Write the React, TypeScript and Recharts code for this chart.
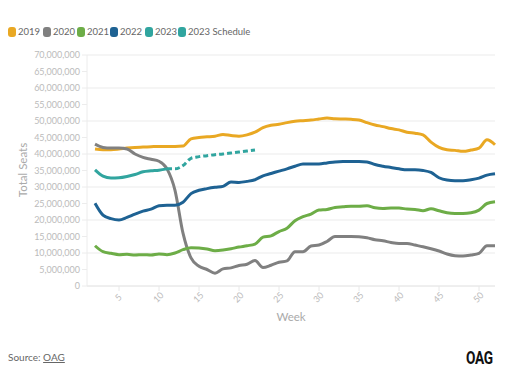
import { LineChart, Line, XAxis, YAxis, CartesianGrid } from 'recharts';

const weeks = [
  2, 3, 4, 5, 6, 7, 8, 9, 10, 11, 12, 13, 14, 15, 16, 17, 18, 19, 20, 21, 22, 23, 24, 25, 26, 27,
  28, 29, 30, 31, 32, 33, 34, 35, 36, 37, 38, 39, 40, 41, 42, 43, 44, 45, 46, 47, 48, 49, 50, 51, 52,
];

// values in millions of seats
const seats2019 = [
  41.5, 41.3, 41.3, 41.5, 41.8, 42.0, 42.1, 42.2, 42.3, 42.3, 42.3, 42.4, 44.6, 45.0, 45.2, 45.4,
  45.9, 45.6, 45.4, 45.8, 46.6, 48.0, 48.7, 49.0, 49.5, 49.9, 50.1, 50.3, 50.6, 50.9, 50.7, 50.6,
  50.5, 50.3, 49.5, 48.8, 48.3, 47.7, 47.3, 46.6, 46.3, 45.8, 43.6, 42.0, 41.3, 41.1, 40.8, 41.2,
  41.8, 44.3, 42.8,
];
const seats2020 = [
  43.0, 42.0, 41.8, 41.8, 41.5, 40.0, 39.0, 38.4, 37.8, 35.5, 29.0, 16.0, 8.5, 6.0, 5.0, 3.9,
  5.2, 5.5, 6.2, 6.6, 7.7, 5.6, 6.3, 7.2, 7.6, 10.4, 10.4, 12.1, 12.4, 13.5, 15.0, 15.0, 15.0,
  14.9, 14.6, 14.0, 13.7, 13.2, 12.9, 12.9, 12.4, 11.9, 11.3, 10.6, 9.7, 9.2, 9.1, 9.4, 9.9,
  12.2, 12.2,
];
const seats2021 = [
  12.2, 10.4, 9.9, 9.5, 9.6, 9.4, 9.5, 9.4, 9.7, 9.5, 10.0, 11.0, 11.6, 11.5, 11.2, 10.7, 10.9,
  11.3, 11.8, 12.2, 12.7, 14.8, 15.2, 16.5, 17.5, 19.8, 21.0, 21.8, 23.0, 23.2, 23.8, 24.0, 24.2,
  24.2, 24.3, 23.7, 23.5, 23.6, 23.6, 23.3, 23.2, 22.8, 23.4, 22.8, 22.2, 22.0, 22.0, 22.2, 23.0,
  25.0, 25.5,
];
const seats2022 = [
  25.1, 21.5, 20.4, 20.0, 20.8, 21.8, 22.7, 23.3, 24.3, 24.5, 24.5, 25.4, 28.0, 29.0, 29.5, 29.9,
  30.2, 31.5, 31.4, 31.7, 32.2, 33.4, 34.1, 34.8, 35.5, 36.3, 37.0, 37.0, 37.0, 37.3, 37.6, 37.7,
  37.7, 37.7, 37.6, 36.8, 36.3, 35.9, 35.5, 35.2, 35.2, 35.0, 34.4, 32.8, 32.1, 31.9, 31.9, 32.2,
  32.7, 33.6, 34.0,
];
// weeks 2-11
const seats2023 = [35.2, 33.3, 32.7, 32.8, 33.2, 33.8, 34.6, 34.9, 35.1, 35.5];
// weeks 11-22
const seats2023Schedule = [35.5, 35.5, 36.5, 38.7, 39.2, 39.5, 39.8, 40.0, 40.3, 40.6, 40.9, 41.2];

const yTicks = [0, 5, 10, 15, 20, 25, 30, 35, 40, 45, 50, 55, 60, 65, 70].map((v) => v * 1000000);
const xTicks = [5, 10, 15, 20, 25, 30, 35, 40, 45, 50];

const series = [
  { key: 'y2019', name: '2019', color: '#E9A823', dashed: false },
  { key: 'y2020', name: '2020', color: '#808080', dashed: false },
  { key: 'y2021', name: '2021', color: '#6DAD47', dashed: false },
  { key: 'y2022', name: '2022', color: '#1E6293', dashed: false },
  { key: 'y2023', name: '2023', color: '#31A59F', dashed: false },
  { key: 'y2023s', name: '2023 Schedule', color: '#31A59F', dashed: true },
];
const legendLeft = [8, 43, 77, 110, 145, 178];

const M = 1000000;
const data = weeks.map((week, i) => {
  const row: any = {
    week,
    y2019: seats2019[i] * M,
    y2020: seats2020[i] * M,
    y2021: seats2021[i] * M,
    y2022: seats2022[i] * M,
  };
  if (week <= 11) row.y2023 = seats2023[week - 2] * M;
  if (week >= 11 && week <= 22) row.y2023s = seats2023Schedule[week - 11] * M;
  return row;
});

const FONT = 'Lato, "Open Sans", sans-serif';

const XTick = (props: any) => {
  const { x, y, payload } = props;
  const ty = y + 5;
  return (
    <text
      x={x}
      y={ty}
      transform={`rotate(-45 ${x} ${ty})`}
      textAnchor="middle"
      dominantBaseline="middle"
      fontSize={9}
      fontFamily={FONT}
      fill="#bbb"
    >
      {payload.value}
    </text>
  );
};

export default function App() {
  return (
    <div
      style={{
        position: 'absolute',
        left: 0,
        top: 0,
        width: 532,
        height: 380,
        background: '#fff',
        fontFamily: FONT,
      }}
    >
      {series.map((s, i) => (
        <div
          key={s.key}
          style={{
            position: 'absolute',
            left: legendLeft[i],
            top: 26,
            display: 'flex',
            alignItems: 'center',
            fontSize: 9.5,
            color: '#666',
            whiteSpace: 'nowrap',
          }}
        >
          <span
            style={{
              display: 'inline-block',
              width: 8,
              height: 10,
              borderRadius: 3,
              background: s.color,
              marginRight: 2,
            }}
          />
          {s.name}
        </div>
      ))}

      <div
        style={{
          position: 'absolute',
          left: 22,
          top: 170,
          transform: 'translate(-50%, -50%) rotate(-90deg)',
          fontSize: 11.5,
          color: '#aaa',
          whiteSpace: 'nowrap',
        }}
      >
        Total Seats
      </div>

      <div style={{ position: 'absolute', left: 0, top: 0 }}>
        <LineChart width={532} height={340} data={data} margin={{ top: 55, right: 37, left: 0, bottom: 0 }}>
          <CartesianGrid vertical={false} stroke="#ebebeb" />
          <XAxis
            dataKey="week"
            type="number"
            domain={[1, 52]}
            ticks={xTicks}
            height={54}
            tick={<XTick />}
            axisLine={{ stroke: '#e8e8e8' }}
            tickLine={{ stroke: '#e8e8e8' }}
            tickSize={5}
          />
          <YAxis
            type="number"
            domain={[0, 70000000]}
            ticks={yTicks}
            width={87}
            tickFormatter={(v: number) => v.toLocaleString('en-US')}
            tick={{ fontSize: 9, fill: '#bbb', fontFamily: FONT }}
            axisLine={{ stroke: '#ececec' }}
            tickLine={{ stroke: '#ececec' }}
            tickSize={5}
          />
          {series.map((s) => (
            <Line
              key={s.key}
              dataKey={s.key}
              stroke={s.color}
              strokeWidth={3}
              strokeDasharray={s.dashed ? '5 3' : undefined}
              dot={false}
              type="monotone"
              isAnimationActive={false}
            />
          ))}
        </LineChart>
      </div>

      <div
        style={{
          position: 'absolute',
          left: 291,
          top: 316,
          transform: 'translate(-50%, -50%)',
          fontSize: 11.5,
          color: '#aaa',
        }}
      >
        Week
      </div>

      <div style={{ position: 'absolute', left: 8, top: 351, fontSize: 10, color: '#666' }}>
        Source: <span style={{ textDecoration: 'underline' }}>OAG</span>
      </div>

      <div
        style={{
          position: 'absolute',
          left: 466,
          top: 346,
          fontFamily: 'Roboto, sans-serif',
          fontWeight: 700,
          fontSize: 19,
          color: '#111',
          transform: 'scaleX(0.72)',
          transformOrigin: 'left center',
          letterSpacing: -0.5,
        }}
      >
        OAG
      </div>
    </div>
  );
}
